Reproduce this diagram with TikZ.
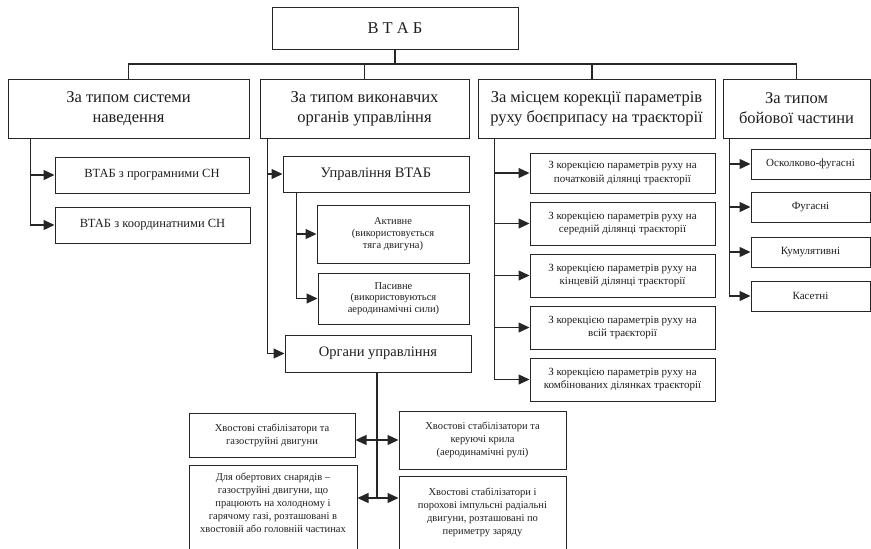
\documentclass[tikz,border=0pt]{standalone}
\usepackage{fontspec}
\setmainfont{Liberation Serif}
\usetikzlibrary{arrows.meta}
\definecolor{ln}{HTML}{262626}
\definecolor{tx}{HTML}{1E1E1E}
\begin{document}
\begin{tikzpicture}[x=1pt,y=-1pt,
  box/.style={draw=ln, line width=1pt, inner sep=0pt, align=center, text=tx},
  txt/.style={inner sep=0pt, align=center, text=tx},
  big/.style={font=\fontsize{16.5}{20}\selectfont},
  mid/.style={font=\fontsize{14.5}{17}\selectfont},
  sml/.style={font=\fontsize{11}{13.3}\selectfont},
  tny/.style={font=\fontsize{10.5}{13}\selectfont},
  tnz/.style={font=\fontsize{10.5}{11.8}\selectfont},
  conn/.style={draw=ln, line width=1.2pt},
  arr/.style={conn, -{Triangle[length=11pt,width=10pt]}},
  darr/.style={conn, {Triangle[length=11pt,width=10pt]}-{Triangle[length=11pt,width=10pt]}},
]
\useasboundingbox (0,0) rectangle (871,549);

% top
\node[box,big,minimum width=246,minimum height=42] (top) at (395,28) {В Т А Б};

% level 1
\node[box,big,minimum width=241,minimum height=59] (A) at (128.5,108.5) {За типом системи\\наведення};
\node[box,big,minimum width=209,minimum height=59] (B) at (364.5,108.5) {За типом виконавчих\\органів управління};
\node[box,big,minimum width=237,minimum height=59] (C) at (596.5,108.5) {За місцем корекції параметрів\\руху боєприпасу на траєкторії};
\node[box,big,minimum width=147,minimum height=59] (D) at (796.5,108.5) {За типом\\бойової частини};

\coordinate (bus) at (397,64);
\draw[conn] (top.south) -- (top.south |- bus);
\draw[conn] (A.north) -- (A.north |- bus) -| (D.north);
\draw[conn] (B.north) -- (B.north |- bus);
\draw[conn] ([xshift=-4.5pt]C.north) -- ([xshift=-4.5pt]C.north |- bus);

% A children
\node[box,font=\fontsize{12.5}{15}\selectfont,minimum width=194,minimum height=36] (A1) at (152,175) {ВТАБ з програмними СН};
\node[box,font=\fontsize{12.5}{15}\selectfont,minimum width=195,minimum height=36] (A2) at (152.5,225) {ВТАБ з координатними СН};
\coordinate (a0) at ([xshift=23pt]A.south west);
\draw[arr] (a0) |- (A1.west);
\draw[arr] (a0) |- (A2.west);

% B children
\node[box,mid,minimum width=186,minimum height=36] (B1) at (376,174) {Управління ВТАБ};
\node[box,tnz,minimum width=152,minimum height=58] (B1a) at (393,234) {Активне\\(використовується\\тяга двигуна)};
\node[box,tnz,minimum width=151,minimum height=51] (B1b) at (393.5,298.5) {Пасивне\\(використовуються\\аеродинамічні сили)};
\node[box,mid,minimum width=186,minimum height=37] (B2) at (378,353.5) {Органи управління};
\coordinate (b0) at ([xshift=8pt]B.south west);
\draw[arr] (b0) |- (B1.west);
\draw[arr] (b0) |- (B2.west);
\coordinate (b1) at ([xshift=14pt]B1.south west);
\draw[arr] (b1) |- (B1a.west);
\draw[arr] (b1) |- (B1b.west);

% organs of control
\node[box,tny,minimum width=166,minimum height=44] (E1) at (272,435) {Хвостові стабілізатори та\\газоструйні двигуни};
\node[box,minimum width=168,minimum height=87] (E2) at (273,508.5) {};
\node[txt,tny] (E2t) at (273,502.5) {Для обертових снарядів –\\газоструйні двигуни, що\\працюють на холодному і\\гарячому газі, розташовані в\\хвостовій або головній частинах};
\node[box,tny,minimum width=167,minimum height=58] (F1) at (482.5,440) {Хвостові стабілізатори та\\керуючі крила\\(аеродинамічні рулі)};
\node[box,minimum width=167,minimum height=76] (F2) at (482.5,514) {};
\node[txt,tny] (F2t) at (482.5,512.5) {Хвостові стабілізатори і\\порохові імпульсні радіальні\\двигуни, розташовані по\\периметру заряду};
\coordinate (j2) at (377,498);
\draw[conn] ([xshift=-1pt]B2.south) -- (j2);
\draw[darr] (E1.east |- F1.west) -- (F1.west);
\draw[darr] (E2.east |- j2) -- (F2.west |- j2);

% C children
\node[box,sml,minimum width=185,minimum height=40] (C1) at (622.5,173) {З корекцією параметрів руху на\\початковій ділянці траєкторії};
\node[box,sml,minimum width=185,minimum height=43] (C2) at (622.5,223.5) {З корекцією параметрів руху на\\середній ділянці траєкторії};
\node[box,sml,minimum width=185,minimum height=43] (C3) at (622.5,275.5) {З корекцією параметрів руху на\\кінцевій ділянці траєкторії};
\node[box,sml,minimum width=185,minimum height=43] (C4) at (622.5,327.5) {З корекцією параметрів руху на\\всій траєкторії};
\node[box,sml,minimum width=185,minimum height=43] (C5) at (622.5,379.5) {З корекцією параметрів руху на\\комбінованих ділянках траєкторії};
\coordinate (c0) at ([xshift=17pt]C.south west);
\foreach \k in {C1,C2,C3,C4,C5} \draw[arr] (c0) |- (\k.west);

% D children
\node[box,sml,minimum width=119,minimum height=30] (D1) at (810.5,164) {Осколково-фугасні};
\node[box,sml,minimum width=119,minimum height=30] (D2) at (810.5,207) {Фугасні};
\node[box,sml,minimum width=119,minimum height=30] (D3) at (810.5,252) {Кумулятивні};
\node[box,sml,minimum width=119,minimum height=30] (D4) at (810.5,296) {Касетні};
\coordinate (d0) at ([xshift=7pt]D.south west);
\foreach \k in {D1,D2,D3,D4} \draw[arr] (d0) |- (\k.west);
\end{tikzpicture}
\end{document}
